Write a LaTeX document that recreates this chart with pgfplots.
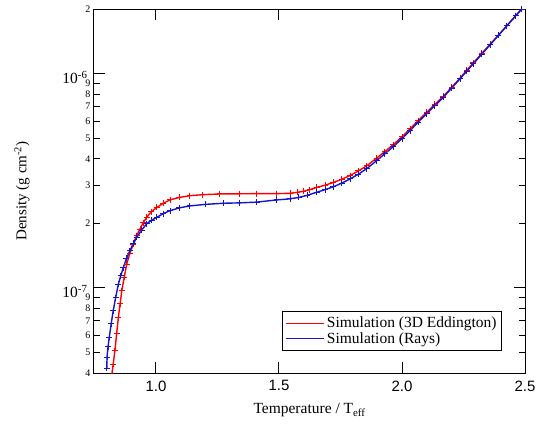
\documentclass[border=0pt]{standalone}
\usepackage{fontspec}
\setmainfont{Liberation Serif}
\newfontfamily\arial{Liberation Sans}
\usepackage{pgfplots}
\pgfplotsset{compat=1.18}
\definecolor{myred}{rgb}{1,0,0}
\definecolor{myblue}{RGB}{20,20,200}
\begin{document}
\begin{tikzpicture}
\begin{axis}[
  scale only axis,
  width=431pt, height=364pt,
  xmin=0.748, xmax=2.5,
  ymode=log, ymin=4e-8, ymax=2e-6,
  axis line style={line width=1pt},
  tick align=inside,
  xtick={1.0,1.5,2.0,2.5},
  xticklabels={1.0,1.5,2.0,2.5},
  xticklabel style={font=\arial\fontsize{15}{17}\selectfont, yshift=-4pt},
  xminorticks=false,
  ytick={1e-7,1e-6},
  yticklabels={10\textsuperscript{-7},10\textsuperscript{-6}},
  yticklabel style={font=\fontsize{15.5}{17}\selectfont, yshift=-4pt, xshift=-3pt},
  yminorticks=false,
  extra y ticks={4e-8,5e-8,6e-8,7e-8,8e-8,9e-8,2e-7,3e-7,4e-7,5e-7,6e-7,7e-7,8e-7,9e-7,2e-6},
  extra y tick labels={4,5,6,7,8,9,2,3,4,5,6,7,8,9,2},
  extra y tick style={major tick length=6pt, yticklabel style={font=\fontsize{10}{12}\selectfont, yshift=4pt, xshift=3pt}},
  major tick length=11pt,
  tick style={line width=1pt, black},
  xlabel={Temperature / T\textsubscript{eff}},
  ylabel={Density (g cm\textsuperscript{-2})},
  xlabel style={font=\fontsize{15.5}{18}\selectfont, at={(axis description cs:0.5,-0.102)}, anchor=center},
  ylabel style={font=\fontsize{15}{18}\selectfont, at={(axis description cs:-0.167,0.5)}, anchor=center},
  legend style={at={(axis description cs:0.9466,0.0604)}, anchor=south east, draw=black, line width=0.8pt, font=\fontsize{15.5}{17}\selectfont, inner xsep=3pt, inner ysep=4pt, row sep=-1pt},
  legend cell align=left,
  legend image code/.code={\draw[#1, mark=none, line width=1.2pt] (0pt,0pt) -- (38pt,0pt);},
]
\addplot[myred, line width=1.4pt, mark=+, mark size=3pt, mark options={line width=1pt}] coordinates {
(0.820,3.9e-8) (0.826,4.4e-8) (0.833,5.08e-8) (0.840,6.1e-8) (0.847,7.26e-8)
(0.854,8.4e-8) (0.861,9.68e-8) (0.871,1.12e-7) (0.881,1.29e-7) (0.894,1.45e-7)
(0.908,1.6e-7) (0.921,1.75e-7) (0.935,1.88e-7) (0.948,2.01e-7) (0.962,2.13e-7)
(0.980,2.26e-7) (1.003,2.37e-7) (1.030,2.48e-7) (1.057,2.57e-7) (1.095,2.64e-7)
(1.138,2.69e-7) (1.19,2.72e-7) (1.26,2.74e-7) (1.34,2.745e-7) (1.41,2.75e-7)
(1.49,2.75e-7) (1.545,2.76e-7) (1.575,2.79e-7) (1.599,2.82e-7) (1.625,2.87e-7)
(1.653,2.94e-7) (1.687,3.01e-7) (1.721,3.10e-7) (1.755,3.21e-7) (1.789,3.34e-7)
(1.823,3.51e-7) (1.857,3.71e-7) (1.897,4.03e-7) (1.93,4.32e-7) (1.965,4.66e-7)
(2.0,5.07e-7) (2.033,5.52e-7) (2.066,6.03e-7) (2.1,6.58e-7) (2.134,7.18e-7)
(2.168,7.83e-7) (2.202,8.62e-7) (2.236,9.52e-7) (2.263,1.035e-6) (2.29,1.12e-6)
(2.324,1.24e-6) (2.358,1.368e-6) (2.392,1.51e-6) (2.426,1.669e-6) (2.463,1.865e-6)
(2.486,1.997e-6) (2.5,2.08e-6)
};
\addlegendentry{Simulation (3D Eddington)}
\addplot[myblue, line width=1.4pt, mark=+, mark size=3pt, mark options={line width=1pt}] coordinates {
(0.800,4.2e-8) (0.801,4.75e-8) (0.805,5.3e-8) (0.810,5.86e-8) (0.818,6.8e-8)
(0.826,7.8e-8) (0.836,9.0e-8) (0.847,1.04e-7) (0.857,1.14e-7) (0.867,1.24e-7)
(0.880,1.37e-7) (0.894,1.49e-7) (0.908,1.61e-7) (0.922,1.72e-7) (0.942,1.86e-7)
(0.962,1.99e-7) (0.983,2.07e-7) (1.003,2.13e-7) (1.030,2.22e-7) (1.057,2.29e-7)
(1.095,2.36e-7) (1.138,2.41e-7) (1.20,2.45e-7) (1.274,2.48e-7) (1.34,2.49e-7)
(1.409,2.51e-7) (1.49,2.57e-7) (1.545,2.60e-7) (1.58,2.64e-7) (1.615,2.70e-7)
(1.653,2.79e-7) (1.687,2.87e-7) (1.721,2.96e-7) (1.755,3.08e-7) (1.789,3.22e-7)
(1.823,3.39e-7) (1.857,3.6e-7) (1.897,3.92e-7) (1.93,4.22e-7) (1.965,4.56e-7)
(2.0,4.97e-7) (2.033,5.42e-7) (2.066,5.93e-7) (2.1,6.48e-7) (2.134,7.09e-7)
(2.168,7.75e-7) (2.202,8.55e-7) (2.236,9.45e-7) (2.263,1.025e-6) (2.29,1.11e-6)
(2.324,1.23e-6) (2.358,1.361e-6) (2.392,1.507e-6) (2.426,1.669e-6) (2.463,1.865e-6)
(2.486,1.997e-6) (2.5,2.08e-6)
};
\addlegendentry{Simulation (Rays)}
\end{axis}
\pgfresetboundingbox
\path ([shift={(-94pt,-61pt)}]current axis.south west) rectangle ([shift={(12pt,9pt)}]current axis.north east);
\end{tikzpicture}
\end{document}
